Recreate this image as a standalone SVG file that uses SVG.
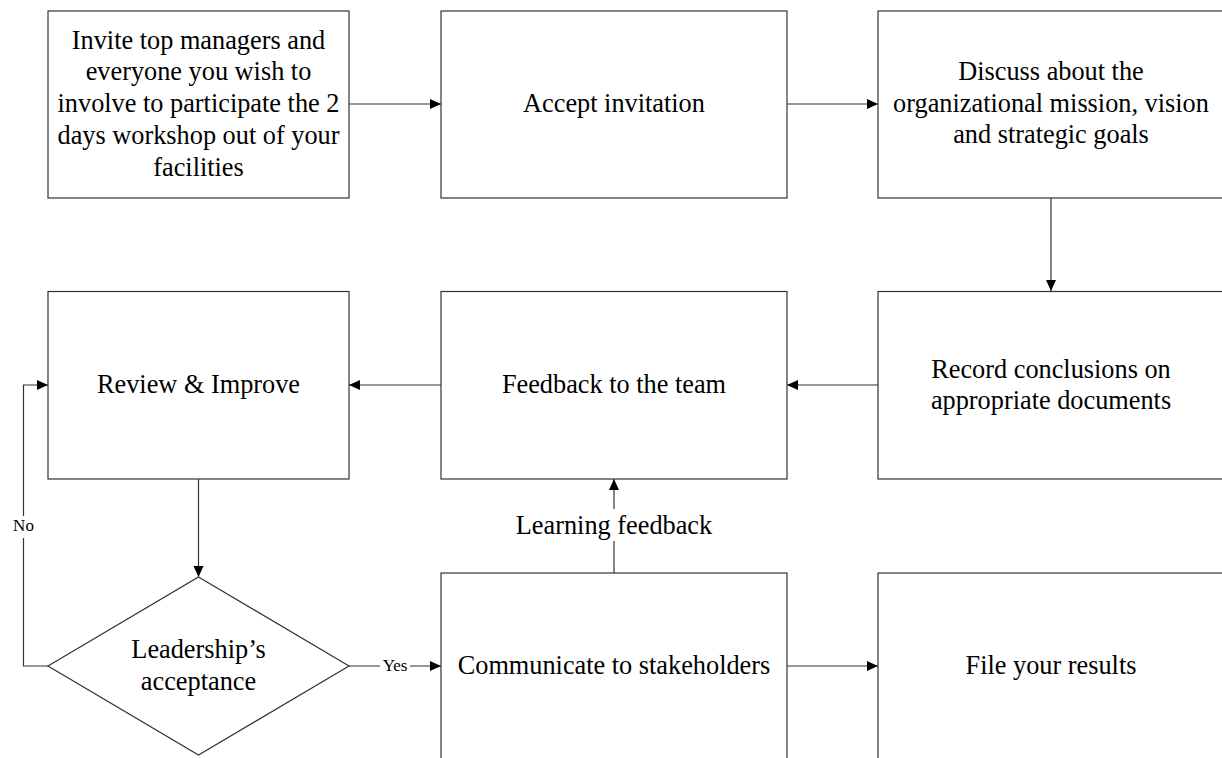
<svg xmlns="http://www.w3.org/2000/svg" width="1222" height="758" viewBox="0 0 1222 758">
<defs>
<marker id="ah" markerUnits="userSpaceOnUse" markerWidth="12" markerHeight="11" refX="11" refY="5" orient="auto">
<path d="M0,0 L11,5 L0,10 z" fill="#000"/>
</marker>
<style>
.box{fill:#fff;stroke:#333;stroke-width:1.2}
.t{font-family:"Liberation Serif","Times New Roman",serif;font-size:26.3px;fill:#000;text-anchor:middle}
.s{font-family:"Liberation Serif","Times New Roman",serif;font-size:17px;fill:#000;text-anchor:middle}
.c{fill:none;stroke:#333;stroke-width:1.2}
.bg{fill:#fff}
</style>
</defs>
<rect width="1222" height="758" fill="#fff"/>
<g id="connectors">
<path class="c" d="M349,104 H441" marker-end="url(#ah)"/>
<path class="c" d="M787,104 H878" marker-end="url(#ah)"/>
<path class="c" d="M1051,198 V291" marker-end="url(#ah)"/>
<path class="c" d="M878,385 H787" marker-end="url(#ah)"/>
<path class="c" d="M441,385 H349" marker-end="url(#ah)"/>
<path class="c" d="M198.5,479 V577" marker-end="url(#ah)"/>
<path class="c" d="M48,666 H23.5 V385 H48" marker-end="url(#ah)"/>
<path class="c" d="M349,666 H441" marker-end="url(#ah)"/>
<path class="c" d="M614,573 V479" marker-end="url(#ah)"/>
<path class="c" d="M787,666 H878" marker-end="url(#ah)"/>
<rect class="bg" x="10" y="516" width="27" height="22"/>
<text class="s" x="23.5" y="530.7">No</text>
<rect class="bg" x="380" y="658" width="30" height="16"/>
<text class="s" x="395" y="670.5">Yes</text>
<rect class="bg" x="510" y="509" width="208" height="32"/>
<text class="t" x="614" y="534">Learning feedback</text>
</g>
<g id="n1">
<rect class="box" x="48" y="11" width="301" height="187"/>
<text class="t" x="198.5" y="48.5">Invite top managers and</text>
<text class="t" x="198.5" y="80.3">everyone you wish to</text>
<text class="t" x="198.5" y="112.1">involve to participate the 2</text>
<text class="t" x="198.5" y="143.9">days workshop out of your</text>
<text class="t" x="198.5" y="175.7">facilities</text>
</g>
<g id="n2">
<rect class="box" x="441" y="11" width="346" height="187"/>
<text class="t" x="614" y="112">Accept invitation</text>
</g>
<g id="n3">
<rect class="box" x="878" y="11" width="346" height="187"/>
<text class="t" x="1051" y="80">Discuss about the</text>
<text class="t" x="1051" y="111.5">organizational mission, vision</text>
<text class="t" x="1051" y="143">and strategic goals</text>
</g>
<g id="n6">
<rect class="box" x="878" y="291.5" width="346" height="187.5"/>
<text class="t" x="1051" y="377.5">Record conclusions on</text>
<text class="t" x="1051" y="408.5">appropriate documents</text>
</g>
<g id="n5">
<rect class="box" x="441" y="291.5" width="346" height="187.5"/>
<text class="t" x="614" y="393.3">Feedback to the team</text>
</g>
<g id="n4">
<rect class="box" x="48" y="291.5" width="301" height="187.5"/>
<text class="t" x="198.5" y="393.3">Review &amp; Improve</text>
</g>
<g id="n9">
<polygon class="box" points="198.5,577 349,666 198.5,755 48,666"/>
<text class="t" x="198.5" y="658">Leadership’s</text>
<text class="t" x="198.5" y="690">acceptance</text>
</g>
<g id="n7">
<rect class="box" x="441" y="573" width="346" height="200"/>
<text class="t" x="614" y="673.5">Communicate to stakeholders</text>
</g>
<g id="n8">
<rect class="box" x="878" y="573" width="346" height="200"/>
<text class="t" x="1051" y="673.5">File your results</text>
</g>
</svg>
